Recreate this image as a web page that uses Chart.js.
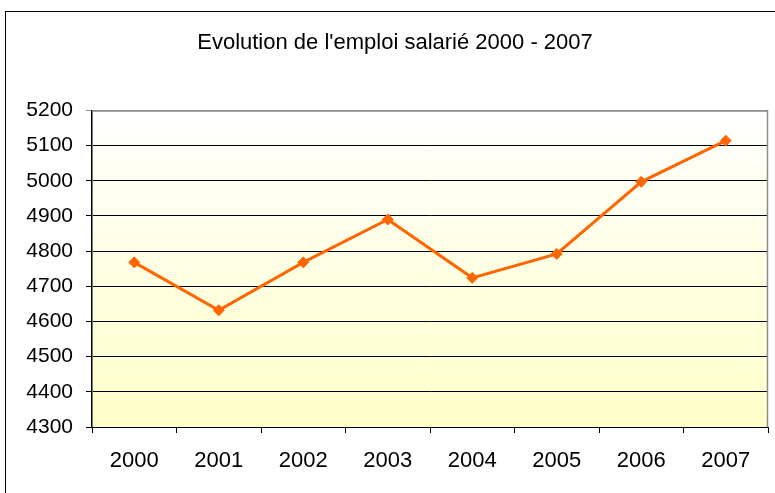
<!DOCTYPE html>
<html>
<head>
<meta charset="utf-8">
<script src="https://cdn.jsdelivr.net/npm/chart.js@4.4.1/dist/chart.umd.min.js"></script>
<style>
  html, body { margin: 0; padding: 0; background: #fff; }
  #wrap { width: 775px; height: 493px; position: relative; }
</style>
</head>
<body>
<div id="wrap"><canvas id="myChart" width="775" height="493"></canvas></div>
<script>
// Donnees
const annees = ['2000', '2001', '2002', '2003', '2004', '2005', '2006', '2007'];
const emplois = [4768, 4632, 4768, 4890, 4724, 4792, 4997, 5114];
const yMin = 4300;
const yMax = 5200;
const yStep = 100;

const titre = "Evolution de l'emploi salarié 2000 - 2007";

// fond degrade + cadre gris de la zone de trace
const fondPlugin = {
    id: 'fond',
    beforeDraw(chart) {
        const { ctx, chartArea: a } = chart;
        ctx.save();
        // cadre exterieur
        ctx.strokeStyle = '#000';
        ctx.lineWidth = 1;
        ctx.strokeRect(5.5, 11.5, 800, 600);
        const g = ctx.createLinearGradient(0, a.top, 0, a.bottom);
        g.addColorStop(0, '#ffffff');
        g.addColorStop(1, '#ffffc8');
        ctx.fillStyle = g;
        ctx.fillRect(a.left, a.top, a.right - a.left, a.bottom - a.top);
        ctx.restore();
    },
    beforeDatasetsDraw(chart) {
        const { ctx, chartArea: a } = chart;
        ctx.save();
        ctx.strokeStyle = '#8c8c8c';
        ctx.lineWidth = 1.5;
        ctx.beginPath();
        ctx.moveTo(a.left, a.top + 0.5);
        ctx.lineTo(a.right - 0.5, a.top + 0.5);
        ctx.lineTo(a.right - 0.5, a.bottom);
        ctx.stroke();
        ctx.restore();
    }
};

const ctx = document.getElementById('myChart').getContext('2d');
const grafico = new Chart(ctx, {
    type: 'line',
    data: {
        labels: annees,
        datasets: [{
            label: 'Emploi salarié',
            data: emplois,
            borderColor: '#ff6600',
            backgroundColor: '#ff6600',
            borderWidth: 3,
            pointStyle: 'rectRot',
            pointRadius: 5.5,
            pointBorderWidth: 1,
            tension: 0
        }]
    },
    options: {
        responsive: false,
        animation: false,
        layout: { padding: { left: 22, right: 7, top: 0, bottom: 0 } },
        plugins: {
            legend: { display: false },
            tooltip: { enabled: false },
            title: {
                display: true,
                text: titre,
                color: '#000',
                font: { family: 'Liberation Sans', size: 22, weight: 'normal' },
                padding: { top: 30, bottom: 54 }
            }
        },
        scales: {
            x: {
                offset: true,
                grid: {
                    offset: true,
                    drawOnChartArea: false,
                    drawTicks: true,
                    tickLength: 6,
                    color: '#000'
                },
                border: { color: '#000', width: 1 },
                ticks: {
                    color: '#000',
                    padding: 15,
                    font: { family: 'Liberation Sans', size: 22 }
                },
                afterFit(scale) { scale.height = 66; }
            },
            y: {
                min: yMin,
                max: yMax,
                ticks: {
                    stepSize: yStep,
                    color: '#000',
                    padding: 13,
                    font: { family: 'Liberation Sans', size: 21 },
                    callback: (v) => String(v)
                },
                grid: {
                    color: (c) => c.tick && c.tick.value === yMax ? '#8c8c8c' : '#000',
                    tickLength: 6,
                    lineWidth: 1
                },
                border: { color: '#000', width: 1.5 },
                afterFit(scale) { scale.width = 70; }
            }
        }
    },
    plugins: [fondPlugin]
});
</script>
</body>
</html>
